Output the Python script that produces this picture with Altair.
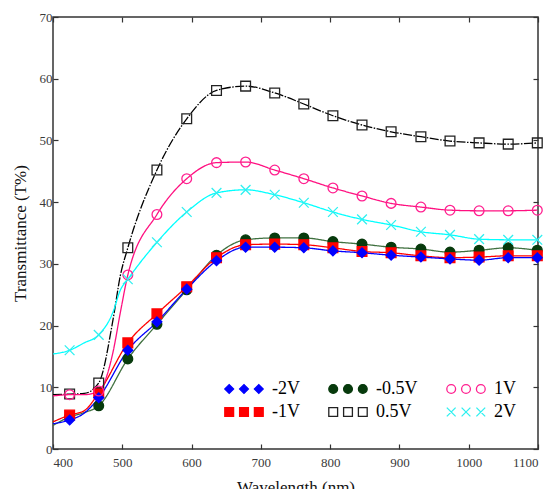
import altair as alt
import pandas as pd

# ---- data ----
series = ["-2V", "-1V", "-0.5V", "0.5V", "1V", "2V"]

# wavelengths at which markers are drawn
wl_markers = [424, 466, 508, 550, 593, 636, 678, 720, 762, 804, 846, 888, 931, 973, 1015, 1057, 1099]
t_m2V = [4.7, 8.3, 16.0, 20.6, 25.9, 30.5, 32.7, 32.7, 32.6, 32.1, 31.8, 31.4, 31.1, 30.8, 30.6, 31.0, 31.0]
t_m1V = [5.5, 9.1, 17.2, 21.9, 26.3, 31.0, 33.1, 33.2, 33.1, 32.6, 32.0, 31.8, 31.3, 31.0, 31.1, 31.3, 31.3]
t_m05V = [5.2, 7.0, 14.6, 20.2, 25.8, 31.4, 33.9, 34.2, 34.2, 33.6, 33.2, 32.7, 32.4, 31.9, 32.2, 32.6, 32.2]
t_05V = [8.9, 10.7, 32.6, 45.2, 53.5, 58.1, 58.8, 57.7, 55.9, 54.0, 52.5, 51.4, 50.6, 49.9, 49.6, 49.4, 49.6]
t_1V = [8.8, 9.4, 28.2, 38.0, 43.8, 46.4, 46.5, 45.2, 43.8, 42.3, 41.0, 39.8, 39.2, 38.7, 38.6, 38.6, 38.7]
t_2V = [16.0, 18.5, 27.5, 33.5, 38.4, 41.5, 42.0, 41.2, 39.9, 38.4, 37.2, 36.3, 35.2, 34.7, 34.0, 33.9, 33.9]

# additional points of the curves (no markers)
wl_extra = [400, 445, 487, 497]
x_m2V = [4.1, 5.8, None, None]
x_m1V = [4.4, 6.2, None, None]
x_m05V = [3.8, 5.9, None, None]
x_05V = [8.8, 9.0, 21.2, 28.0]
x_1V = [8.6, 8.8, 15.9, 22.0]
x_2V = [15.4, 17.2, 22.3, 25.7]

x_ticks = [400, 500, 600, 700, 800, 900, 1000, 1100]
y_ticks = [0, 10, 20, 30, 40, 50, 60, 70]

marker_vals = [t_m2V, t_m1V, t_m05V, t_05V, t_1V, t_2V]
extra_vals = [x_m2V, x_m1V, x_m05V, x_05V, x_1V, x_2V]

rows = []
for s, mv, ev in zip(series, marker_vals, extra_vals):
    for w, v in zip(wl_markers, mv):
        rows.append({"series": s, "wl": w, "t": v, "marker": True})
    for w, v in zip(wl_extra, ev):
        if v is not None:
            rows.append({"series": s, "wl": w, "t": v, "marker": False})
df = pd.DataFrame(rows).sort_values(["series", "wl"])

# ---- styles ----
line_color = {"-2V": "#0000ff", "-1V": "#ff0000", "-0.5V": "#3f703f",
              "0.5V": "#000000", "1V": "#ff1080", "2V": "#00ffff"}
line_dash = {"-2V": [1, 0], "-1V": [1, 0], "-0.5V": [1, 0],
             "0.5V": [9, 1.5, 1.5, 1.5], "1V": [1, 0], "2V": [1, 0]}
mk_stroke = {"-2V": "#0000ff", "-1V": "#ff0000", "-0.5V": "#073a0c",
             "0.5V": "#222222", "1V": "#ff2090", "2V": "#30f0f0"}
mk_fill = {"-2V": "#0000ff", "-1V": "#ff0000", "-0.5V": "#073a0c",
           "0.5V": "transparent", "1V": "transparent", "2V": "transparent"}
XPATH = "M-1,-1L1,1M-1,1L1,-1"
mk_shape = {"-2V": "diamond", "-1V": "square", "-0.5V": "circle",
            "0.5V": "square", "1V": "circle", "2V": XPATH}
mk_size = {"-2V": 95, "-1V": 95, "-0.5V": 95, "0.5V": 100, "1V": 95, "2V": 120}

# triple symbols for the legend (unit = 2 px with symbolSize 16)
d, h = 7.4, 2.2
def tri(fn):
    return "".join(fn(c) for c in (-d, 0, d))
leg_shape_map = {
    "-2V": tri(lambda c: f"M{c-h},0L{c},{-h}L{c+h},0L{c},{h}Z"),
    "-1V": tri(lambda c: f"M{c-h},{-h}L{c+h},{-h}L{c+h},{h}L{c-h},{h}Z"),
    "-0.5V": tri(lambda c: f"M{c-h},0A{h},{h} 0 1,0 {c+h},0A{h},{h} 0 1,0 {c-h},0Z"),
    "0.5V": tri(lambda c: f"M{c-h},{-h}L{c+h},{-h}L{c+h},{h}L{c-h},{h}Z"),
    "1V": tri(lambda c: f"M{c-h},0A{h},{h} 0 1,0 {c+h},0A{h},{h} 0 1,0 {c-h},0Z"),
    "2V": tri(lambda c: f"M{c-h},{-h}L{c+h},{h}M{c-h},{h}L{c+h},{-h}"),
}

def sc(mapping, order):
    return alt.Scale(domain=order, range=[mapping[k] for k in order])

xscale = alt.Scale(domain=[400, 1100], nice=False, zero=False)
yscale = alt.Scale(domain=[0, 70], nice=False)
FONT = "Liberation Serif, Times New Roman, serif"

base = alt.Chart(df)

lines = base.mark_line(interpolate="monotone", strokeWidth=1.3).encode(
    x=alt.X("wl:Q", scale=xscale,
            axis=alt.Axis(orient="bottom", values=x_ticks, format="d", tickSize=5, offset=-5,
                          labelPadding=7, title="Wavelength (nm)", titlePadding=10)),
    y=alt.Y("t:Q", scale=yscale,
            axis=alt.Axis(orient="left", values=y_ticks, format="d", tickSize=5, offset=-5,
                          labelPadding=1, title="Transmittance (T%)", titlePadding=10)),
    color=alt.Color("series:N", scale=sc(line_color, series), legend=None),
    strokeDash=alt.StrokeDash("series:N", scale=sc(line_dash, series), legend=None),
    detail="series:N",
)

points = base.transform_filter("datum.marker").mark_point(opacity=1, strokeWidth=1.3).encode(
    x=alt.X("wl:Q", scale=xscale,
            axis=alt.Axis(orient="top", values=x_ticks, tickSize=5, offset=-5,
                          labels=False, title=None)),
    y=alt.Y("t:Q", scale=yscale,
            axis=alt.Axis(orient="right", values=y_ticks, tickSize=5, offset=-5,
                          labels=False, title=None)),
    stroke=alt.Stroke("series:N", scale=sc(mk_stroke, series), legend=None),
    fill=alt.Fill("series:N", scale=sc(mk_fill, series), legend=None),
    shape=alt.Shape("series:N", scale=sc(mk_shape, series), legend=None),
    size=alt.Size("series:N", scale=sc(mk_size, series), legend=None),
)

leg = alt.Legend(title=None, orient="none", legendX=182, legendY=363, columns=3,
                 columnPadding=26, rowPadding=5, symbolSize=16, symbolStrokeWidth=1.3,
                 labelOffset=19, labelFont=FONT, labelFontSize=18, labelColor="#000",
                 padding=0)

legend_layer = base.transform_filter("datum.wl < 0").mark_point(opacity=1, strokeWidth=1.3).encode(
    x=alt.X("wl:Q", scale=xscale, axis=None),
    y=alt.Y("t:Q", scale=yscale, axis=None),
    stroke=alt.Stroke("series:N", scale=sc(mk_stroke, series), legend=leg),
    fill=alt.Fill("series:N", scale=sc(mk_fill, series), legend=leg),
    shape=alt.Shape("series:N", scale=sc(leg_shape_map, series), legend=leg),
)

chart = alt.layer(lines, points, legend_layer).resolve_scale(
    color="independent", stroke="independent", fill="independent",
    shape="independent", size="independent", strokeDash="independent",
).resolve_axis(x="independent", y="independent").properties(
    width=485, height=432,
    autosize=alt.AutoSizeParams(type="none"),
    padding={"left": 45, "top": 9, "right": 10, "bottom": 40},
).configure_view(
    stroke="#333333", strokeWidth=1.5
).configure_axis(
    grid=False, domain=False, labelFont=FONT, titleFont=FONT, labelFontSize=13,
    titleFontSize=17, titleFontWeight="normal", labelColor="#3a3a3a", titleColor="#111111",
    tickColor="#333333", tickWidth=1.2,
)

chart.save("out.html", embed_options={"renderer": "svg", "actions": False})
